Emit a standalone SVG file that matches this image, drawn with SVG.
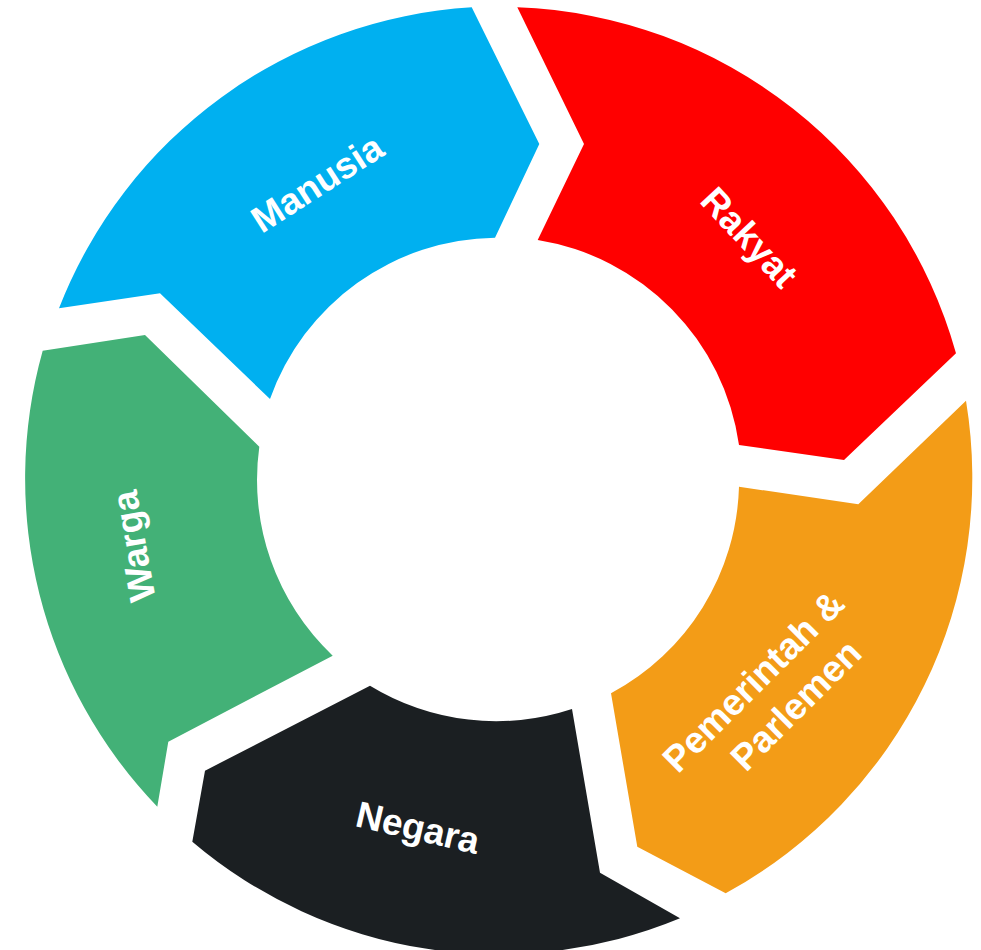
<svg xmlns="http://www.w3.org/2000/svg" width="981" height="950" viewBox="0 0 981 950">
  <style>
    .label { font-family: "Liberation Sans", Arial, sans-serif; font-weight: bold; font-size: 37px; fill: #FFFFFF; text-anchor: middle; }
  </style>
  <rect width="981" height="950" fill="#FFFFFF"/>

  <!-- Ring of five chevron segments, centre (499,479), outer r 473.5, inner r 242 -->
  <g id="manusia">
    <path fill="#00B0F0" d="M59,308.3 A473.5,473.5 0 0 1 471.7,7.3 L539.3,144 L495,237.7 A242,242 0 0 0 270,399 L160,293.3 Z"/>
    <text class="label" transform="translate(324,194) rotate(-32.7)">Manusia</text>
  </g>

  <g id="rakyat">
    <path fill="#FF0000" d="M517.3,7.3 A473.5,473.5 0 0 1 956,353.3 L844,460 L739,445 A242,242 0 0 0 537.7,240 L584,144 Z"/>
    <text class="label" transform="translate(740,246) rotate(47)">Rakyat</text>
  </g>

  <g id="pemerintah">
    <path fill="#F39C17" d="M966,400.7 A473.5,473.5 0 0 1 725.7,893.3 L637.3,846.7 L611,693.3 A242,242 0 0 0 739,486.7 L858.3,504.3 Z"/>
    <text class="label" transform="translate(785,700) rotate(-45)">
      <tspan x="-4" y="-23">Pemerintah &amp;</tspan>
      <tspan x="4" y="24">Parlemen</tspan>
    </text>
  </g>

  <g id="negara">
    <path fill="#1B1F22" d="M680,918.3 A473.5,473.5 0 0 1 192.3,841.7 L205,770.7 L370,685.7 A242,242 0 0 0 572,709 L600,872.7 Z"/>
    <text class="label" transform="translate(415,840) rotate(13)">Negara</text>
  </g>

  <g id="warga">
    <path fill="#43B177" d="M157.3,806.7 A473.5,473.5 0 0 1 42.7,350.7 L145,335 L259.3,446.7 A242,242 0 0 0 332.7,655.7 L168.3,741.7 Z"/>
    <text class="label" transform="translate(146,544) rotate(-100)">Warga</text>
  </g>

  <!-- the segments are chained by their own arrow shapes; no separate connectors -->
  <g id="connectors"/>
</svg>
